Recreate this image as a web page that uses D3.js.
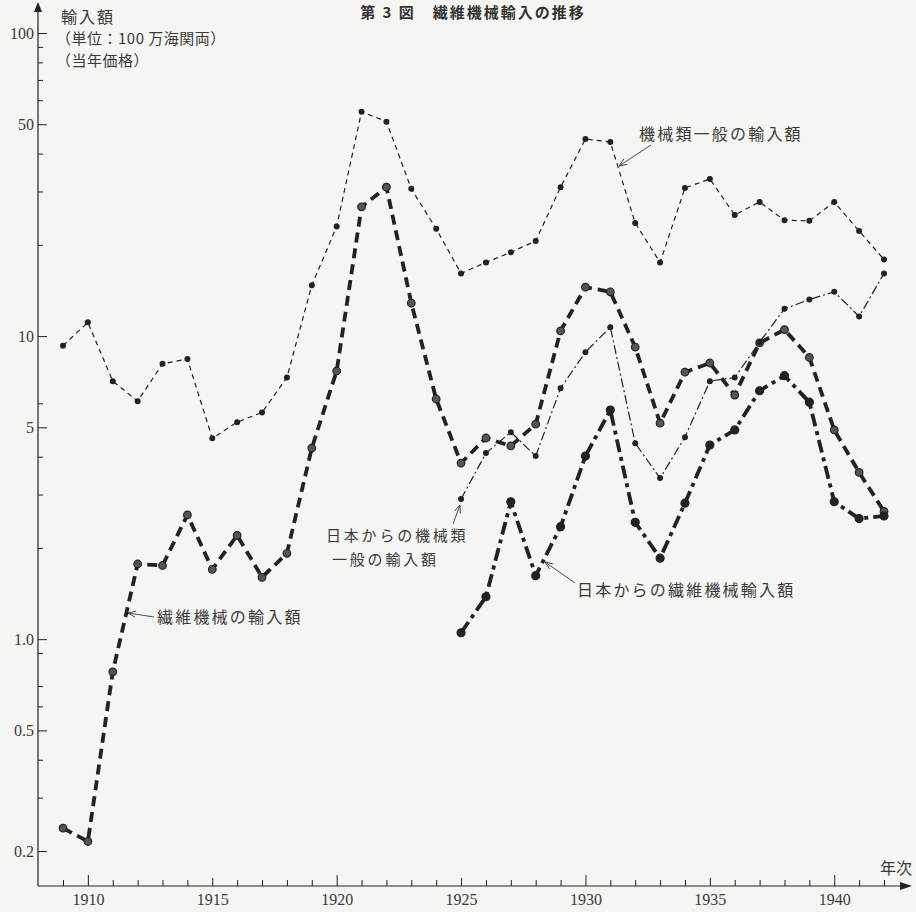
<!DOCTYPE html>
<html>
<head>
<meta charset="utf-8">
<script src="https://cdn.jsdelivr.net/npm/d3@7"></script>
<style>
body { margin: 0; background: #f5f5f2; }
svg { display: block; }
</style>
</head>
<body>
<script>
// years
var yearsAll = [1909, 1910, 1911, 1912, 1913, 1914, 1915, 1916, 1917, 1918, 1919, 1920, 1921, 1922, 1923, 1924, 1925,
    1926, 1927, 1928, 1929, 1930, 1931, 1932, 1933, 1934, 1935, 1936, 1937, 1938, 1939, 1940, 1941, 1942];
var yearsJapan = [1925, 1926, 1927, 1928, 1929, 1930, 1931, 1932, 1933, 1934, 1935, 1936, 1937, 1938, 1939, 1940, 1941, 1942];

// 機械類一般の輸入額
var machineryTotal = [9.3, 11.1, 7.1, 6.1, 8.1, 8.4, 4.6, 5.2, 5.6, 7.3, 14.7, 23, 55, 51, 30.6, 22.6, 16.1,
    17.5, 18.9, 20.6, 31, 44.7, 43.7, 23.6, 17.5, 30.8, 33, 25.1, 27.7, 24.1, 24, 27.7, 22.2, 17.9];
// 繊維機械の輸入額
var textileTotal = [0.238, 0.215, 0.78, 1.77, 1.75, 2.57, 1.70, 2.20, 1.60, 1.92, 4.27, 7.67, 26.7, 31.0, 12.85, 6.2, 3.81,
    4.61, 4.34, 5.12, 10.4, 14.5, 14.0, 9.2, 5.16, 7.6, 8.15, 6.39, 9.5, 10.5, 8.5, 4.9, 3.55, 2.64];
// 日本からの機械類一般の輸入額
var machineryJapan = [2.9, 4.11, 4.82, 4.02, 6.73, 8.85, 10.7, 4.43, 3.4, 4.64, 7.1, 7.3, 9.55, 12.3, 13.2, 14.0, 11.6, 16.1];
// 日本からの繊維機械輸入額
var textileJapan = [1.05, 1.38, 2.84, 1.62, 2.35, 4.02, 5.7, 2.43, 1.85, 2.81, 4.37, 4.9, 6.6, 7.4, 6.05, 2.84, 2.5, 2.55];

var yMajorTicks = [100, 50, 10, 5, 1, 0.5, 0.2];
var yMinorTicks = [90, 80, 70, 60, 40, 30, 20, 6, 4, 3, 2, 0.9, 0.7, 0.6, 0.4, 0.3];
var xLabelYears = [1910, 1915, 1920, 1925, 1930, 1935, 1940];

var width = 916, height = 912;
var axisX = 38, axisY = 886;
var ink = "#222";
var textInk = "#3a3a3a";
var jpFont = "'Noto Sans CJK JP', sans-serif";
var numFont = "'Liberation Serif', 'DejaVu Serif', serif";

var svg = d3.select("body").append("svg")
    .attr("width", width)
    .attr("height", height);

var x = d3.scaleLinear().domain([1909, 1942]).range([63, 884]);
var y = d3.scaleLog().domain([0.2, 100]).range([851, 33]);

var defs = svg.append("defs");
defs.append("marker")
    .attr("id", "tip")
    .attr("viewBox", "0 0 10 10")
    .attr("refX", 10).attr("refY", 5)
    .attr("markerUnits", "userSpaceOnUse")
    .attr("markerWidth", 8).attr("markerHeight", 8)
    .attr("orient", "auto")
    .append("path")
    .attr("d", "M0,1 L10,5 L0,9")
    .attr("fill", "none")
    .attr("stroke", textInk)
    .attr("stroke-width", 1.1);

// title
svg.append("text")
    .attr("x", 473).attr("y", 18)
    .attr("text-anchor", "middle")
    .style("font-family", jpFont)
    .style("font-size", "15px")
    .style("font-weight", "bold")
    .style("letter-spacing", "2px")
    .attr("fill", "#333")
    .text("第 3 図　繊維機械輸入の推移");

// y axis
var yMajor = svg.append("g")
    .attr("transform", "translate(" + axisX + ",0)")
    .call(d3.axisLeft(y).tickValues(yMajorTicks).tickSize(-9).tickPadding(4)
        .tickFormat(function (d) { return d === 1 ? "1.0" : String(d); }));
yMajor.select(".domain").remove();
yMajor.selectAll("line").attr("stroke", ink);
yMajor.selectAll("text")
    .style("font-family", numFont)
    .style("font-size", "16px")
    .attr("fill", textInk);

var yMinor = svg.append("g")
    .attr("transform", "translate(" + axisX + ",0)")
    .call(d3.axisLeft(y).tickValues(yMinorTicks).tickSize(-5).tickFormat(""));
yMinor.select(".domain").remove();
yMinor.selectAll("line").attr("stroke", ink);

// x axis
var xTicks = svg.append("g")
    .attr("transform", "translate(0," + axisY + ")")
    .call(d3.axisBottom(x).tickValues(yearsAll).tickSize(-6).tickFormat(""));
xTicks.select(".domain").remove();
xTicks.selectAll("line")
    .attr("y2", function (d) { return d % 10 === 0 ? -11 : (d % 5 === 0 ? -8 : -6); })
    .attr("stroke", ink);

var xLabels = svg.append("g")
    .attr("transform", "translate(0," + axisY + ")")
    .call(d3.axisBottom(x).tickValues(xLabelYears).tickSize(0).tickPadding(8).tickFormat(d3.format("d")));
xLabels.select(".domain").remove();
xLabels.selectAll("text")
    .style("font-family", numFont)
    .style("font-size", "16px")
    .attr("fill", textInk);

// axis lines with arrow heads
svg.append("line")
    .attr("x1", axisX).attr("y1", axisY).attr("x2", axisX).attr("y2", 6)
    .attr("stroke", ink).attr("stroke-width", 1.2);
svg.append("path")
    .attr("d", "M" + (axisX - 4) + ",12 L" + axisX + ",2 L" + (axisX + 4) + ",12 Z")
    .attr("fill", ink);
svg.append("line")
    .attr("x1", axisX).attr("y1", axisY).attr("x2", 906).attr("y2", axisY)
    .attr("stroke", ink).attr("stroke-width", 1.2);
svg.append("path")
    .attr("d", "M900," + (axisY - 4) + " L912," + axisY + " L900," + (axisY + 4) + " Z")
    .attr("fill", ink);

// axis titles
var yTitle = svg.append("g")
    .style("font-family", jpFont)
    .attr("fill", textInk);
yTitle.append("text").attr("x", 61).attr("y", 23)
    .style("font-size", "16px").style("letter-spacing", "2px").text("輸入額");
yTitle.append("text").attr("x", 56).attr("y", 44)
    .style("font-size", "15px").style("letter-spacing", "0.5px").text("（単位：100 万海関両）");
yTitle.append("text").attr("x", 56).attr("y", 66)
    .style("font-size", "15px").style("letter-spacing", "0.5px").text("（当年価格）");

svg.append("text")
    .attr("x", 912).attr("y", 874)
    .attr("text-anchor", "end")
    .style("font-family", jpFont)
    .style("font-size", "16px")
    .attr("fill", textInk)
    .text("年次");

// series
var series = [
    { years: yearsAll, values: machineryTotal, width: 1.2, dash: "5,4", r: 2.4, fill: ink },
    { years: yearsAll, values: textileTotal, width: 3.8, dash: "10,6", r: 3.8, fill: "#555" },
    { years: yearsJapan, values: machineryJapan, width: 1.2, dash: "9,3,2,3", r: 2.4, fill: ink },
    { years: yearsJapan, values: textileJapan, width: 3.8, dash: "13,5,4,5", r: 4, fill: ink }
];

var line = d3.line()
    .x(function (d) { return x(d.year); })
    .y(function (d) { return y(d.value); });

series.forEach(function (s) {
    var pts = s.years.map(function (yr, i) { return { year: yr, value: s.values[i] }; });
    var g = svg.append("g");
    g.append("path")
        .datum(pts)
        .attr("d", line)
        .attr("fill", "none")
        .attr("stroke", ink)
        .attr("stroke-width", s.width)
        .attr("stroke-dasharray", s.dash)
        .attr("stroke-linejoin", "round");
    g.selectAll("circle")
        .data(pts)
        .enter().append("circle")
        .attr("cx", function (d) { return x(d.year); })
        .attr("cy", function (d) { return y(d.value); })
        .attr("r", s.r)
        .attr("fill", s.fill)
        .attr("stroke", ink)
        .attr("stroke-width", 1.2);
});

// annotations: label text + arrow pointing to the line
var notes = [
    { text: "機械類一般の輸入額", tx: 639, ty: 140, size: 16 },
    { text: "繊維機械の輸入額", tx: 157, ty: 623, size: 16 },
    { text: "日本からの機械類", tx: 326, ty: 541, size: 15 },
    { text: "一般の輸入額", tx: 332, ty: 565, size: 15 },
    { text: "日本からの繊維機械輸入額", tx: 577, ty: 596, size: 16 }
];
var arrows = [
    { from: [651, 145], to: [619, 166] },
    { from: [154, 617], to: [128, 613] },
    { from: [453, 524], to: [460, 505] },
    { from: [575, 583], to: [545, 562] }
];

svg.append("g").selectAll("text")
    .data(notes)
    .enter().append("text")
    .attr("x", function (d) { return d.tx; })
    .attr("y", function (d) { return d.ty; })
    .style("font-family", jpFont)
    .style("font-size", function (d) { return d.size + "px"; })
    .style("letter-spacing", function (d) { return d.size === 16 ? "2.2px" : "2.8px"; })
    .attr("fill", textInk)
    .text(function (d) { return d.text; });

svg.append("g").selectAll("line")
    .data(arrows)
    .enter().append("line")
    .attr("x1", function (d) { return d.from[0]; })
    .attr("y1", function (d) { return d.from[1]; })
    .attr("x2", function (d) { return d.to[0]; })
    .attr("y2", function (d) { return d.to[1]; })
    .attr("stroke", textInk)
    .attr("stroke-width", 0.9)
    .attr("marker-end", "url(#tip)");
</script>
</body>
</html>
